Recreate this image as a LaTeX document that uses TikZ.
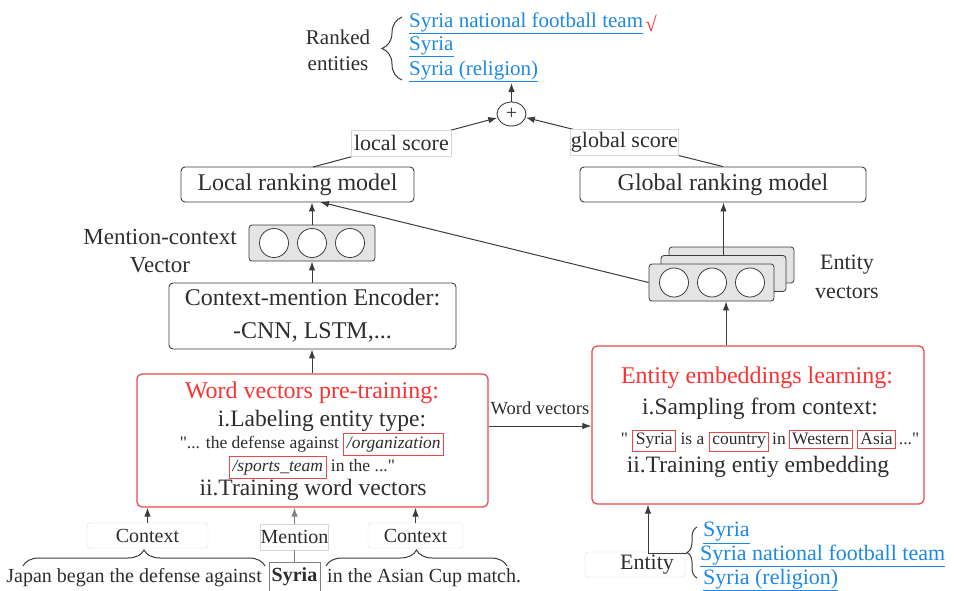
\documentclass[tikz,border=0pt]{standalone}
\usepackage{fontspec}
\setmainfont{Liberation Serif}[Ligatures=TeXOff]
\usetikzlibrary{arrows.meta,decorations.pathreplacing,calc,shapes.geometric}
\definecolor{txt}{RGB}{45,45,45}
\definecolor{linkblue}{RGB}{30,136,229}
\definecolor{boxred}{RGB}{232,72,72}
\definecolor{titlered}{RGB}{250,50,50}
\definecolor{vecfill}{RGB}{228,228,228}
\definecolor{lightframe}{RGB}{215,215,215}
\definecolor{edgecol}{RGB}{60,60,60}
\newcommand{\fsz}[2]{\fontsize{#1}{#2}\selectfont}
\newcommand{\rb}[1]{{\setlength{\fboxsep}{2.5pt}\setlength{\fboxrule}{1pt}\fcolorbox{boxred}{white}{#1}}}
\tikzset{
  model/.style={draw=edgecol, rounded corners=4pt, line width=0.9pt, minimum height=35pt, inner sep=0pt, font=\fsz{24}{28}, text=txt},
  arr/.style={draw=edgecol, line width=1pt, -{Latex[length=9pt,width=6.5pt]}},
  scorelab/.style={draw=lightframe, fill=white, inner sep=0pt, minimum height=26pt, font=\fsz{22}{26}, text=txt},
  vecbox/.style={draw=edgecol, fill=vecfill, rounded corners=3pt, minimum width=126pt, minimum height=36pt, line width=0.8pt},
  unit/.style={circle, draw=edgecol, fill=white, minimum size=29pt, inner sep=0pt, line width=0.8pt},
  redbox/.style={draw=boxred, rounded corners=5pt, line width=1.2pt},
  lbl/.style={text=txt, inner sep=0pt},
  tagbox/.style={draw=lightframe, rounded corners=3pt, minimum height=25pt, inner sep=0pt, text=txt, font=\fsz{20}{24}},
  link/.style={text=linkblue, anchor=west, inner sep=0pt},
  bracedeco/.style={decorate, decoration={brace, amplitude=#1}, draw=edgecol, line width=1pt}
}
\begin{document}
\begin{tikzpicture}[x=1pt,y=-1pt]
\useasboundingbox (0,0) rectangle (954,590);

% ---- top: ranked entities
\node[lbl, align=center, font=\fsz{21}{26}] (ranked) at (338,50) {Ranked\\entities};
\draw[bracedeco=20] (402,80) -- (402,17);
\node[link, font=\fsz{21}{25}] (t1) at (409,23) {\underline{Syria national football team}};
\node[text=titlered, inner sep=0pt, font=\fsz{21}{25}, anchor=west] (chk) at ([xshift=2pt]t1.east) {√};
\node[link, font=\fsz{21}{25}] (t2) at (409,47) {\underline{Syria}};
\node[link, font=\fsz{21}{25}] (t3) at (409,71) {\underline{Syria (religion)}};

\node[ellipse, draw=edgecol, line width=0.9pt, minimum width=29pt, minimum height=24pt, inner sep=0pt, font=\fsz{20}{24}, text=txt] (plus) at (511.5,114) {+};
\coordinate (rankin) at (511.5,83);
\draw[arr] (plus.north) -- (rankin);

% ---- ranking models
\node[model, minimum width=233pt] (local) at (297.5,184.5) {Local ranking model};
\node[model, minimum width=286pt] (global) at (723,184.5) {Global ranking model};
\coordinate (lsrc) at (313,167);
\draw[arr] (lsrc) -- node[scorelab, minimum width=100pt, pos=0.48] (ls) {local score} (plus);
\draw[arr] (global.north) -- node[scorelab, minimum width=108pt, pos=0.5] (gs) {global score} (plus);

% ---- mention-context vector
\node[vecbox] (mcv) at (312,243) {};
\node[unit] (m1) at (274,243) {};
\node[unit] (m2) at (312,243) {};
\node[unit] (m3) at (350,243) {};
\node[lbl, align=center, font=\fsz{23}{28}] (mcvlab) at (160,251) {Mention-context\\Vector};
\draw[arr] (mcv.north) -- (mcv.north |- local.south);

% ---- encoder
\node[model, minimum width=287pt, minimum height=66pt, align=center, font=\fsz{24}{33}] (enc) at (312.5,316) {Context-mention Encoder:\\-CNN, LSTM,...};
\draw[arr] (enc.north -| mcv.north) -- (mcv.south);

% ---- entity vectors
\node[vecbox, minimum width=125pt] (ev3) at (731.5,265) {};
\node[vecbox, minimum width=125pt] (ev2) at (723.5,273.5) {};
\node[vecbox, minimum width=125pt, minimum height=37pt] (ev1) at (711.5,282.5) {};
\node[unit] (e1) at (674,282.5) {};
\node[unit] (e2) at (712,282.5) {};
\node[unit] (e3) at (750,282.5) {};
\node[lbl, align=center, font=\fsz{22}{29}] (evlab) at (847,277) {Entity\\vectors};
\draw[arr] (ev2.north) -- (ev2.north |- global.south);
\coordinate (lend) at (320,202);
\draw[arr] (ev1.west) -- (lend);

% ---- word vectors box
\node[redbox, minimum width=351pt, minimum height=133pt] (wv) at (312.5,440.5) {};
\node[lbl, text=titlered, font=\fsz{24}{28}] (wvt) at (312,393) {Word vectors pre-training:};
\node[lbl, font=\fsz{23.5}{28}] (wv1) at (322,421) {i.Labeling entity type:};
\node[lbl, align=center, font=\fsz{17.5}{23}] (wvq) at (312,456) {"... the defense against \rb{\textit{/organization}}\\\rb{\textit{/sports\_team}} in the ..."};
\node[lbl, font=\fsz{23.5}{28}] (wv2) at (313,490) {ii.Training word vectors};
\draw[arr] (wv.north -| mcv.north) -- (enc.south -| mcv.north);

% ---- entity embeddings box
\node[redbox, minimum width=332pt, minimum height=158pt] (ent) at (758,425) {};
\node[lbl, text=titlered, font=\fsz{24}{28}] (entt) at (757,378) {Entity embeddings learning:};
\node[lbl, font=\fsz{23.5}{28}] (ent1) at (760,409) {i.Sampling from context:};
\node[lbl, font=\fsz{17.5}{23}] (entq) at (770,441) {" \rb{Syria} is a \rb{country}\,in\,\rb{Western} \rb{Asia}\,..."};
\node[lbl, font=\fsz{23.5}{28}] (ent2) at (758,467) {ii.Training entiy embedding};
\draw[arr] (ent.north -| 726,0) -- (ev1.south -| 726,0);

% ---- word vectors arrow
\coordinate (wvout) at ($(wv.east)+(0,-14.5)$);
\draw[arr] (wvout) -- (wvout -| ent.west);
\node[lbl, font=\fsz{18.5}{22}] (wvlab) at (540,408) {Word vectors};

% ---- bottom left: sentence
\node[tagbox, minimum width=121pt] (ctx1) at (147.5,535.5) {Context};
\node[tagbox, rounded corners=0pt, minimum width=63pt, minimum height=26pt] (ment) at (294.5,537) {Mention};
\node[tagbox, minimum width=95pt] (ctx2) at (415.5,535.5) {Context};
\draw[arr] (ctx1.north) -- (ctx1.north |- wv.south);
\draw[arr, draw=gray] (ment.north) -- (ment.north |- wv.south);
\draw[arr] (ctx2.north) -- (ctx2.north |- wv.south);

\node[lbl, anchor=east, font=\fsz{20}{24}] (s1) at (262,578) {Japan began the defense against};
\node[draw=gray, line width=0.9pt, minimum width=51pt, minimum height=30pt, inner sep=0pt, text=txt, font=\fsz{20}{24}] (syr) at (294.5,577) {\textbf{Syria}};
\node[lbl, anchor=west, font=\fsz{20}{24}] (s3) at (327,578) {in the Asian Cup match.};
\draw[draw=gray, line width=1pt] (syr.north) -- (ment.south);
\draw[bracedeco=16] (23,566) -- (265,566);
\draw[bracedeco=16] (326,566) -- (507,566);

% ---- bottom right: entity candidates
\node[tagbox, minimum width=100pt, minimum height=25pt, font=\fsz{22}{26}] (entl) at (635,564.5) {\hspace*{24pt}Entity};
\draw[bracedeco=10] (697,578) -- (697,527);
\coordinate (ebr) at (687,553);
\coordinate (ej) at (648,553);
\draw[arr] (ebr) -- (ej) -- (ej |- ent.south);
\node[link, font=\fsz{22}{26}] (b1) at (703,533) {\underline{Syria}};
\node[link, font=\fsz{22}{26}] (b2) at (700,556) {\underline{Syria national football team}};
\node[link, font=\fsz{22}{26}] (b3) at (703,580) {\underline{Syria (religion)}};
\end{tikzpicture}
\end{document}
